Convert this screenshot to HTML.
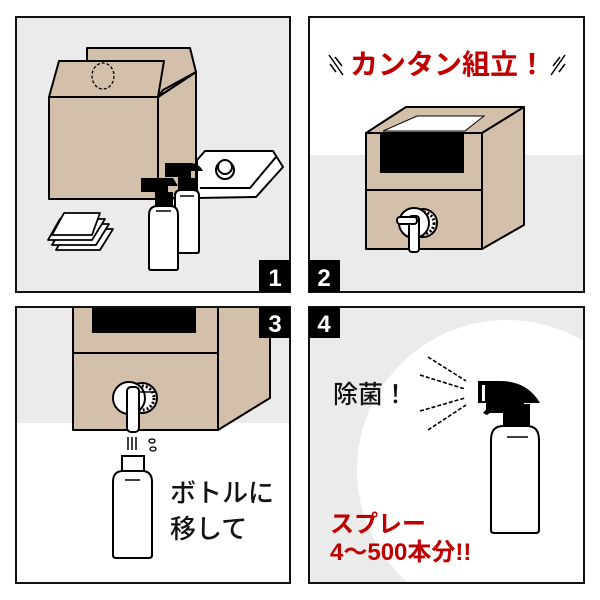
<!DOCTYPE html>
<html><head><meta charset="utf-8"><style>
html,body{margin:0;padding:0;background:#fff;width:600px;height:600px;overflow:hidden}
svg{display:block}
text{font-family:"Liberation Sans","Noto Sans CJK JP",sans-serif;font-weight:bold}
</style></head><body>
<svg width="600" height="600" viewBox="0 0 600 600" xmlns="http://www.w3.org/2000/svg">
<defs>
<clipPath id="c4"><rect x="309" y="307" width="275" height="276"/></clipPath>
<clipPath id="c3"><rect x="16" y="307" width="274" height="276"/></clipPath>
<clipPath id="c2"><rect x="309" y="17" width="275" height="275"/></clipPath>
</defs>
<rect width="600" height="600" fill="#fff"/>

<!-- PANEL 1 -->
<rect x="16" y="17" width="274" height="275" fill="#ebebeb"/>
<g stroke="#000" stroke-width="2" stroke-linejoin="round" fill="#d2c0aa">
<polygon points="87,48 190,48 196,72 196,197 158,199 158,97 87,97"/>
<polygon points="158,97 196,72 196,197 158,199"/>
<polygon points="158,97 163,90 196,72"/>
<polygon points="49,97 59,61 164,61 158,97"/>
<rect x="49" y="97" width="109" height="102"/>
</g>
<ellipse cx="103" cy="76" rx="11" ry="13" fill="none" stroke="#000" stroke-width="1.3" stroke-dasharray="3,2"/>
<!-- bag -->
<g stroke="#000" stroke-width="2" fill="#fff" stroke-linejoin="round">
<polygon points="197,160 205,151 273,151 283,167 256,197 197,198"/>
<polyline points="200,188 250,188 276,157" fill="none"/>
<circle cx="225" cy="170" r="9"/>
<circle cx="225" cy="167" r="7"/>
</g>
<!-- cards -->
<g stroke="#000" stroke-width="1.8" fill="#fff" stroke-linejoin="round">
<polygon points="68,229 113,229 100,250 56,250"/>
<polygon points="64,224 109,224 96,245 52,245"/>
<polygon points="60,219 105,219 92,240 48,240"/>
<polygon points="64,213 100,213 92,235 52,235"/>
</g>
<!-- bottles -->
<g>
<path d="M165,163h25q9,0 13,8h-12v12h-13v-6h-13z" fill="#000"/>
<rect x="178" y="178" width="18" height="14" fill="#000"/>
<path d="M175,196q0,-6 6,-6h12q6,0 6,6v55q0,2 -2,2h-20q-2,0 -2,-2z" fill="#fff" stroke="#000" stroke-width="2"/>
<line x1="180" y1="196" x2="194" y2="196" stroke="#000" stroke-width="1.5"/>
<path d="M141,178h32l5,8h-10v12h-13v-6h-14z" fill="#000"/>
<rect x="155" y="192" width="18" height="14" fill="#000"/>
<path d="M149,215q0,-9 9,-9h12q8,0 8,9v53q0,2 -2,2h-25q-2,0 -2,-2z" fill="#fff" stroke="#000" stroke-width="2"/>
<line x1="156" y1="211" x2="171" y2="211" stroke="#000" stroke-width="1.5"/>
</g>
<rect x="16" y="17" width="274" height="275" fill="none" stroke="#111" stroke-width="2"/>
<rect x="259" y="260" width="31" height="32" fill="#000"/>
<text x="275" y="286" fill="#fff" font-size="24" text-anchor="middle">1</text>

<!-- PANEL 2 -->
<g clip-path="url(#c2)">
<rect x="309" y="17" width="275" height="275" fill="#fff"/>
<rect x="309" y="155" width="275" height="137" fill="#ebebeb"/>
</g>
<text x="448" y="74" fill="#c00000" font-size="28" text-anchor="middle">カンタン組立！</text>
<g stroke="#000" stroke-width="1.5"><line x1="329" y1="55" x2="343" y2="75"/><line x1="335" y1="57" x2="342" y2="66"/><line x1="330" y1="64" x2="336" y2="72"/><line x1="565" y1="55" x2="551" y2="75"/><line x1="560" y1="57" x2="553" y2="66"/><line x1="565" y1="64" x2="559" y2="72"/></g>
<g stroke="#000" stroke-width="2" stroke-linejoin="round" fill="#d2c0aa">
<polygon points="366,133 406,107 524,107 482,133"/>
<polygon points="482,133 524,107 524,225 482,249"/>
<rect x="366" y="133" width="116" height="116"/>
</g>
<polygon points="383,131 417,116 484,116 465,131" fill="#fff" stroke="#000" stroke-width="1"/>
<rect x="380" y="133" width="84" height="40" fill="#000"/>
<line x1="366" y1="190" x2="482" y2="190" stroke="#000" stroke-width="2"/>
<circle cx="423" cy="223" r="14" fill="#fff" stroke="#000" stroke-width="2"/>
<circle cx="423" cy="223" r="11" fill="none" stroke="#000" stroke-width="3" stroke-dasharray="2,2"/>
<circle cx="414" cy="223" r="15" fill="#fff" stroke="#000" stroke-width="2"/>
<rect x="409" y="216" width="10" height="36" rx="3" fill="#fff" stroke="#000" stroke-width="2"/>
<rect x="397" y="217" width="20" height="7" rx="3" fill="#fff" stroke="#000" stroke-width="2"/>
<rect x="309" y="17" width="275" height="275" fill="none" stroke="#111" stroke-width="2"/>
<rect x="309" y="260" width="31" height="32" fill="#000"/>
<text x="324" y="286" fill="#fff" font-size="24" text-anchor="middle">2</text>

<!-- PANEL 3 -->
<g clip-path="url(#c3)">
<rect x="16" y="307" width="274" height="276" fill="#fff"/>
<rect x="16" y="307" width="274" height="116" fill="#ebebeb"/>
<g stroke="#000" stroke-width="2" stroke-linejoin="round" fill="#d2c0aa">
<polygon points="218,300 270,300 270,398 218,430"/>
<rect x="73" y="300" width="145" height="130"/>
</g>
<rect x="92" y="300" width="104" height="33" fill="#000"/>
</g>
<line x1="73" y1="353" x2="218" y2="353" stroke="#000" stroke-width="2"/>
<circle cx="142" cy="398" r="15" fill="#fff" stroke="#000" stroke-width="2"/>
<circle cx="142" cy="398" r="12" fill="none" stroke="#000" stroke-width="3" stroke-dasharray="2,2"/>
<circle cx="129" cy="398" r="16" fill="#fff" stroke="#000" stroke-width="2"/>
<line x1="139" y1="392" x2="155" y2="392" stroke="#000" stroke-width="1.5"/>
<rect x="127" y="387" width="12" height="45" rx="4" fill="#fff" stroke="#000" stroke-width="2"/>
<g stroke="#000" stroke-width="1.5"><line x1="128" y1="437" x2="128" y2="450"/><line x1="132" y1="437" x2="132" y2="450"/><line x1="136" y1="437" x2="136" y2="450"/></g>
<ellipse cx="152" cy="441" rx="3" ry="2" fill="none" stroke="#000" stroke-width="1.3"/>
<ellipse cx="153" cy="449" rx="3" ry="2" fill="none" stroke="#000" stroke-width="1.3"/>
<rect x="122" y="456" width="22" height="15" fill="#fff" stroke="#000" stroke-width="2"/>
<path d="M113,482q0,-11 10,-11h19q10,0 10,11v73q0,3 -3,3h-33q-3,0 -3,-3z" fill="#fff" stroke="#000" stroke-width="2"/>
<line x1="125" y1="480" x2="140" y2="480" stroke="#000" stroke-width="1.5"/>
<text x="170" y="502" font-size="26" fill="#111" style="font-weight:500">ボトルに</text>
<text x="170" y="538" font-size="26" fill="#111" style="font-weight:500">移して</text>
<rect x="16" y="307" width="274" height="276" fill="none" stroke="#111" stroke-width="2"/>
<rect x="259" y="307" width="31" height="31" fill="#000"/>
<text x="275" y="332" fill="#fff" font-size="24" text-anchor="middle">3</text>

<!-- PANEL 4 -->
<g clip-path="url(#c4)">
<rect x="309" y="307" width="275" height="276" fill="#ebebeb"/>
<circle cx="507" cy="470" r="150" fill="#fff"/>
</g>
<g stroke="#000" stroke-width="1.6" stroke-dasharray="4,2"><line x1="428" y1="357" x2="466" y2="381"/><line x1="420" y1="375" x2="465" y2="389"/><line x1="420" y1="411" x2="465" y2="398"/><line x1="428" y1="430" x2="466" y2="405"/></g>
<path d="M478,381h22q27,0 40,22h-16v10h-38v-10h-8z" fill="#000"/>
<path d="M490,405l-7,8l4,2l7,-5z" fill="#000"/>
<rect x="482" y="385" width="3" height="16" fill="#fff"/>
<rect x="503" y="404" width="27" height="22" fill="#000"/>
<path d="M491,440q0,-14 12,-14h24q12,0 12,14v90q0,3 -3,3h-42q-3,0 -3,-3z" fill="#fff" stroke="#000" stroke-width="2"/>
<line x1="507" y1="437" x2="528" y2="437" stroke="#000" stroke-width="1.5"/>
<text x="333" y="403" font-size="25" fill="#111" style="font-weight:500">除菌！</text>
<text x="330" y="532" font-size="24" fill="#c00000">スプレー</text>
<text x="330" y="560" font-size="24" fill="#c00000">4～500本分!!</text>
<rect x="309" y="307" width="275" height="276" fill="none" stroke="#111" stroke-width="2"/>
<rect x="309" y="307" width="31" height="31" fill="#000"/>
<text x="324" y="332" fill="#fff" font-size="24" text-anchor="middle">4</text>
</svg>
</body></html>
